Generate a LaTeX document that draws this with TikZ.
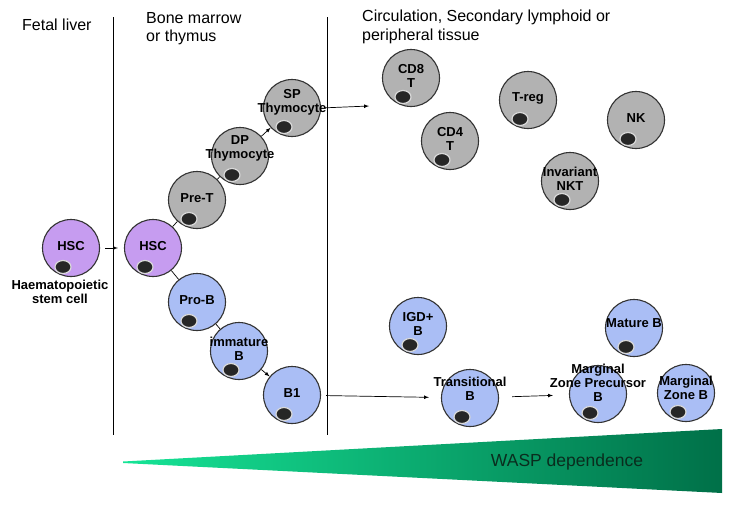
\documentclass[tikz,border=0pt]{standalone}
\usepackage{fontspec}
\setmainfont{Liberation Sans}
\usetikzlibrary{arrows,positioning}
\definecolor{tcell}{RGB}{178,178,178}
\definecolor{stemcell}{RGB}{198,156,240}
\definecolor{bcell}{RGB}{170,190,245}
\definecolor{wasplight}{RGB}{22,228,150}
\definecolor{waspmid}{RGB}{14,214,140}
\definecolor{waspdark}{RGB}{0,112,72}
\definecolor{wasptext}{RGB}{10,45,30}

\begin{document}
\begin{tikzpicture}[x=1pt,y=-1pt,
    cell/.style={circle,draw=black!80,line width=1.1pt,minimum size=57pt,inner sep=0pt},
    celltext/.style={align=center,inner sep=0pt,font=\fontsize{13}{14}\selectfont\bfseries,yshift=2pt},
    nucleus/.style={fill=black!85,draw=white!85!black,line width=1.2pt},
    heading/.style={anchor=north west,align=left,inner sep=0pt,font=\fontsize{16}{18.5}\selectfont},
    link/.style={line width=0.7pt}]
  \path[use as bounding box,fill=white] (0,0) rectangle (736,512);

  % dividers
  \draw[line width=0.7pt] (113,17) -- (113,435);
  \draw[line width=0.7pt] (327,17) -- (327,435);

  \node[heading] (fetal) at (22,19) {Fetal liver};
  \node[heading] (marrow) at (146,12) {Bone marrow\\or thymus};
  \node[heading] (circ) at (362,10) {Circulation, Secondary lymphoid or\\peripheral tissue};

  % cells
  \node[cell,fill=stemcell] (hscf) at (71,248) {};
  \node[cell,fill=stemcell] (hscb) at (153,248) {};
  \node[cell,fill=tcell] (pret) at (197,200) {};
  \node[cell,fill=tcell] (dp) at (240,156) {};
  \node[cell,fill=tcell] (sp) at (292,108) {};
  \node[cell,fill=bcell] (prob) at (197,302) {};
  \node[cell,fill=bcell] (imm) at (239,351) {};
  \node[cell,fill=bcell] (bone) at (292,395) {};
  \node[cell,fill=tcell] (cd8) at (411,78) {};
  \node[cell,fill=tcell] (cd4) at (450,141) {};
  \node[cell,fill=tcell] (treg) at (528,100) {};
  \node[cell,fill=tcell] (nk) at (636,120) {};
  \node[cell,fill=tcell] (inkt) at (570,181) {};
  \node[cell,fill=bcell] (igd) at (418,326) {};
  \node[cell,fill=bcell] (mature) at (634,328) {};
  \node[cell,fill=bcell] (trans) at (470,398) {};
  \node[cell,fill=bcell] (mzp) at (598,394) {};
  \node[cell,fill=bcell] (mz) at (686,393) {};

  % nuclei
  \foreach \c in {hscf,hscb,pret,dp,sp,prob,imm,bone,cd8,cd4,treg,nk,inkt,igd,mature,trans,mzp,mz}
    \draw[nucleus] ([shift={(-8pt,-19pt)}]\c.center) ellipse [x radius=8pt,y radius=6.5pt];

  % labels
  \node[celltext] (hscf-t) at (hscf) {HSC};
  \node[celltext,anchor=north,yshift=0pt] (hscf-n) at (60,282) {Haematopoietic\\stem cell};
  \node[celltext] (hscb-t) at (hscb) {HSC};
  \node[celltext] (pret-t) at (pret) {Pre-T};
  \node[celltext,yshift=6pt] (dp-t) at (dp) {DP\\Thymocyte};
  \node[celltext,yshift=4pt] (sp-t) at (sp) {SP\\Thymocyte};
  \node[celltext] (prob-t) at (prob) {Pro-B};
  \node[celltext] (imm-t) at (imm) {immature\\B};
  \node[celltext] (bone-t) at (bone) {B1};
  \node[celltext] (cd8-t) at (cd8) {CD8\\T};
  \node[celltext] (cd4-t) at (cd4) {CD4\\T};
  \node[celltext,yshift=0pt] (treg-t) at (treg) {T-reg};
  \node[celltext] (nk-t) at (nk) {NK};
  \node[celltext] (inkt-t) at (inkt) {Invariant\\NKT};
  \node[celltext] (igd-t) at (igd) {IGD+\\B};
  \node[celltext,yshift=3pt] (mature-t) at (mature) {Mature B};
  \node[celltext,yshift=7pt] (trans-t) at (trans) {Transitional\\B};
  \node[celltext,yshift=9pt] (mzp-t) at (mzp) {Marginal\\Zone Precursor\\B};
  \node[celltext,yshift=3.5pt] (mz-t) at (mz) {Marginal\\Zone B};

  % connectors
  \coordinate (periph) at (369,106);
  \draw[link,->,>=latex,shorten <=5pt,shorten >=6pt] (hscf) to (hscb);
  \draw[link] (hscb) to (pret);
  \draw[link] (pret) to (dp);
  \draw[link,->,>=latex] (dp) to (sp);
  \draw[link,->,>=latex,shorten <=4pt] (sp.east) to (periph);
  \draw[link] (hscb) to (prob);
  \draw[link] (prob) to (imm);
  \draw[link,->,>=latex] (imm) to (bone);
  \draw[link,->,>=latex,shorten <=5pt,shorten >=12pt] (bone) to (trans);
  \draw[link,->,>=latex,shorten <=13pt,shorten >=16pt] (trans) to (mzp);

  % WASP gradient
  \shade[left color=wasplight,middle color=waspmid,right color=waspdark]
    (123,461.5) -- (722,429) -- (722,493) -- (123,463) -- cycle;
  \node[font=\fontsize{17.5}{20}\selectfont,text=wasptext] (wasp) at (567,462) {WASP dependence};
\end{tikzpicture}
\end{document}
